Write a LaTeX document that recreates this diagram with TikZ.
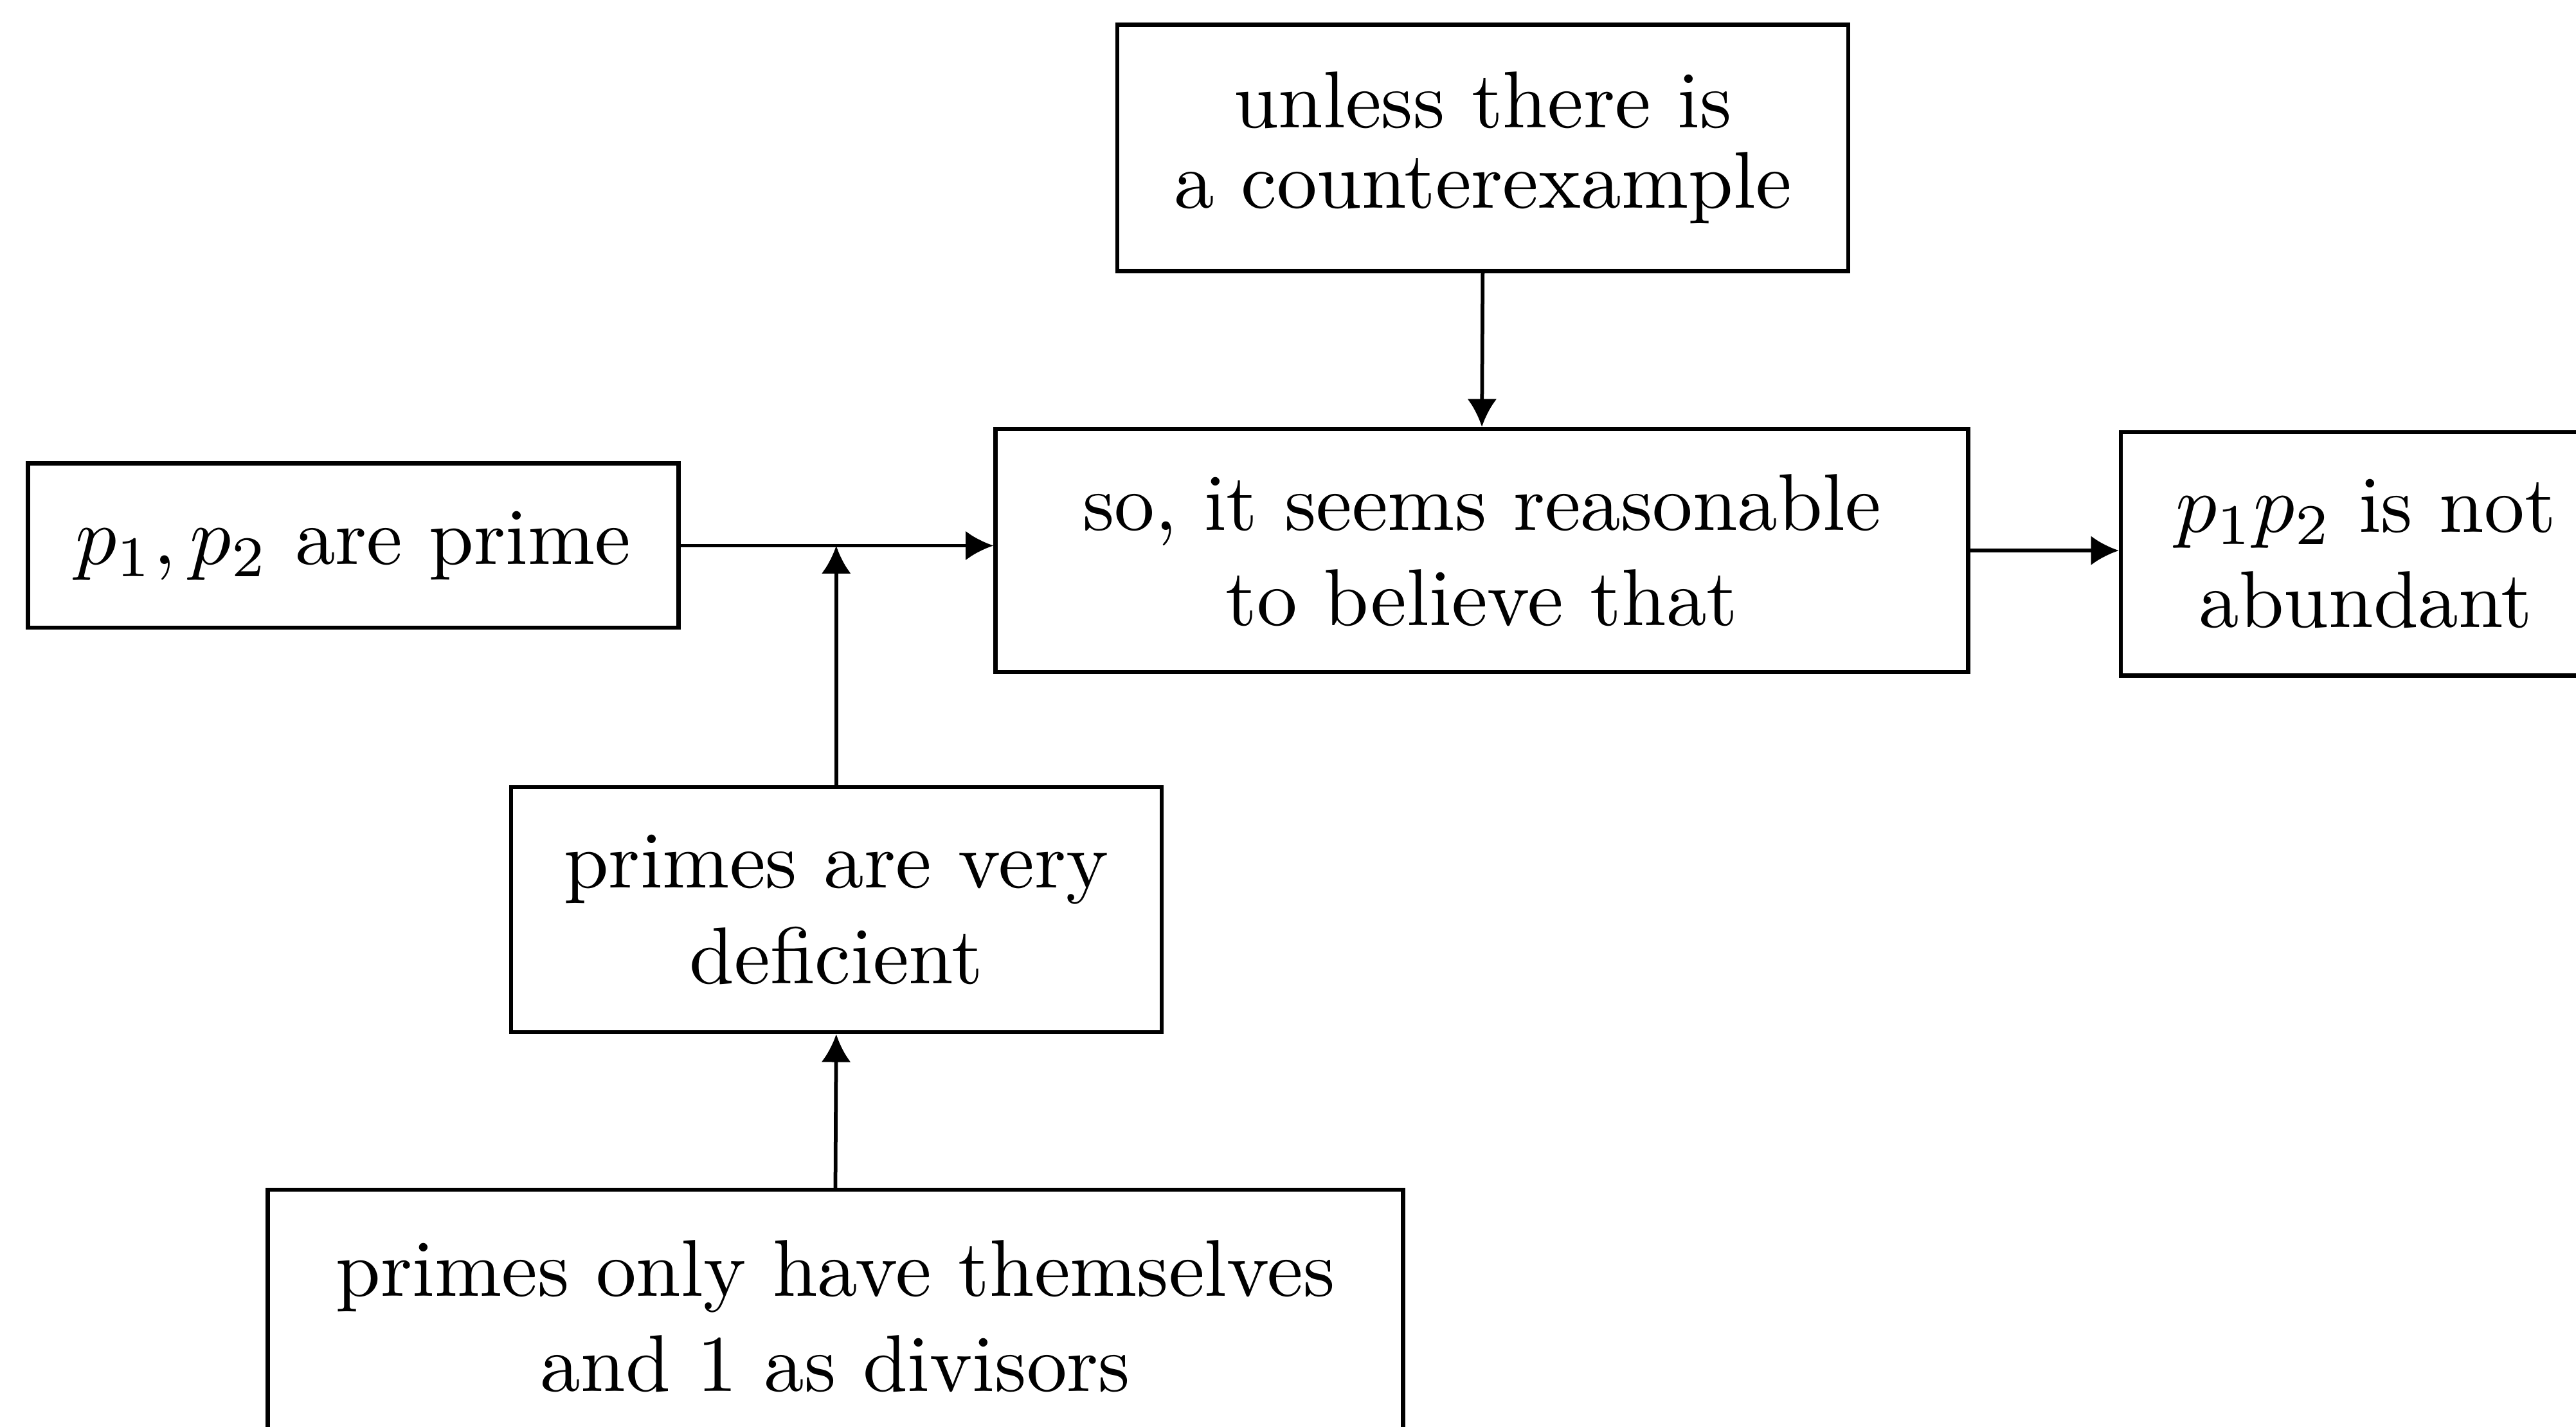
\documentclass[tikz,border=0pt]{standalone}
\usetikzlibrary{arrows.meta}
\begin{document}
\begin{tikzpicture}[x=0.2pt,y=-0.2pt,
  box/.style={draw,line width=0.5pt,inner sep=0pt,align=center,
    font=\fontsize{9.8}{11.6}\selectfont},
  arr/.style={line width=0.45pt,-{Latex[length=3.4pt,width=3.6pt]}}]
\useasboundingbox (0,0) rectangle (1568,868);

\node[box,minimum width=89pt,minimum height=30pt,
  font=\fontsize{9.8}{9.8}\selectfont] (top) at (902.5,90)
  {unless there is\\a counterexample};
\node[box,minimum width=118.4pt,minimum height=29.6pt] (center) at (902,335)
  {so, it seems reasonable\\to believe that};
\node[box,minimum width=59.6pt,minimum height=29.6pt] (right) at (1440,337)
  {$p_1p_2$ is not\\abundant};
\node[box,minimum width=79.2pt,minimum height=20pt] (left) at (215,332)
  {$p_1, p_2$ are prime};
\node[box,minimum width=79.2pt,minimum height=29.8pt] (defic) at (509,553.5)
  {primes are very\\deficient};
\node[box,minimum width=138.2pt,minimum height=30.8pt] (bottom) at (508.5,801)
  {primes only have themselves\\and 1 as divisors};

\coordinate (join) at (defic.north |- left.east);
\draw[arr] (top.south) -- (center.north);
\draw[arr] (left.east) -- (left.east -| center.west);
\draw[arr] (defic.north) -- (join);
\draw[arr] (bottom.north) -- (defic.south);
\draw[arr] (center.east) -- (center.east -| right.west);
\end{tikzpicture}
\end{document}
